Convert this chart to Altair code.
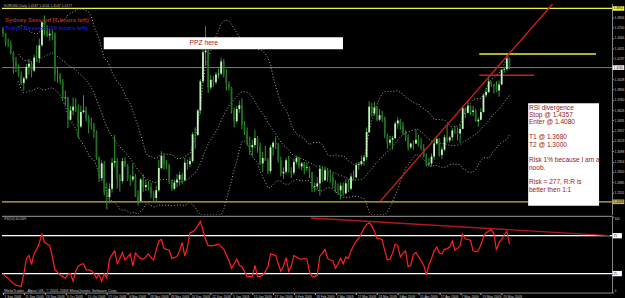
import json
import altair as alt
import pandas as pd

# ---------------- data ----------------
date_labels = ["1 Sep 2008", "11 Sep 2008", "23 Sep 2008", "3 Oct 2008", "15 Oct 2008",
               "27 Oct 2008", "6 Nov 2008", "18 Nov 2008", "28 Nov 2008", "10 Dec 2008",
               "22 Dec 2008", "5 Jan 2009", "15 Jan 2009", "27 Jan 2009", "6 Feb 2009",
               "18 Feb 2009", "2 Mar 2009", "12 Mar 2009", "24 Mar 2009", "3 Apr 2009",
               "15 Apr 2009", "27 Apr 2009", "7 May 2009", "19 May 2009", "29 May 2009"]
date_ticks = list(range(0, 193, 8))

# EURUSD daily, prices in 1/10000
opens = [14680,14620,14500,14490,14370,14260,14170,14090,13980,14040,
         14190,14230,14140,14310,14300,14470,14770,14660,14600,14620,
         14620,14090,14080,14000,13780,13790,13500,13620,13670,13620,
         13410,13600,13620,13520,13450,13420,13340,13000,12740,12930,
         12550,12490,12600,12940,12960,12730,12700,12960,12900,12730,
         12720,12760,12500,12440,12720,12620,12650,12620,12540,12480,
         12580,12870,13030,12920,12910,12690,12600,12680,12720,12780,
         12710,12940,12920,12960,13310,13300,13620,14000,14380,14400,
         13920,14020,13990,14090,14100,14260,14100,13970,13920,13620,
         13480,13640,13690,13430,13340,13200,13140,13170,13260,13160,
         12930,13000,12970,12830,13140,13200,13180,12970,12800,12820,
         12970,12830,12810,12950,13000,12890,12930,12870,12880,12810,
         12620,12630,12670,12860,12710,12840,12760,12750,12670,12580,
         12580,12640,12540,12670,12600,12760,12750,12910,12920,12960,
         13010,13340,13670,13580,13660,13500,13560,13530,13290,13200,
         13240,13260,13450,13490,13420,13330,13270,13140,13190,13190,
         13240,13170,13130,13030,12920,12930,13020,13190,13250,13040,
         13110,13270,13230,13270,13360,13350,13320,13380,13650,13590,
         13680,13600,13620,13480,13500,13600,13820,13860,14000,13960,
         13940,13880,13960,14150,14160,14300]
highs = [14710,14630,14560,14530,14390,14320,14220,14130,14060,14230,
         14290,14250,14350,14470,14560,14790,14860,14730,14690,14680,
         14640,14190,14110,14030,13880,13800,13680,13790,13780,13700,
         13680,13820,13670,13560,13530,13460,13360,13020,12970,12960,
         12680,12670,13000,13300,13000,12790,13000,13010,12920,12780,
         12930,12790,12580,12740,12790,12720,12700,12680,12570,12640,
         12980,13090,13050,12970,12930,12720,12720,12790,12820,12810,
         13000,12980,13010,13340,13400,13640,14030,14440,14720,14420,
         14080,14070,14120,14170,14310,14290,14160,14000,13930,13660,
         13680,13750,13780,13480,13400,13280,13240,13370,13290,13200,
         13080,13160,13000,13170,13220,13280,13200,13020,12880,13000,
         13030,12880,12990,13030,13020,12950,12950,12940,12890,12820,
         12680,12750,12910,12890,12890,12870,12850,12800,12710,12670,
         12680,12680,12720,12720,12800,12840,12940,12950,13030,13040,
         13400,13740,13720,13730,13680,13640,13620,13540,13320,13290,
         13290,13480,13530,13510,13470,13360,13310,13200,13230,13370,
         13300,13260,13180,13060,13000,13060,13240,13290,13260,13150,
         13300,13430,13290,13390,13420,13400,13440,13680,13660,13740,
         13690,13680,13640,13530,13650,13840,13920,14050,14000,13970,
         14000,14010,14160,14190,14340,14310]
lows = [14580,14460,14450,14350,14100,14120,14060,13950,13880,14020,
        14090,14050,14120,14250,14240,14450,14600,14580,14530,14540,
        14000,13980,13960,13760,13690,13390,13490,13560,13600,13260,
        13390,13580,13480,13320,13370,13260,12980,12690,12700,12510,
        12330,12410,12550,12880,12600,12560,12670,12880,12700,12640,
        12690,12490,12380,12420,12560,12570,12580,12480,12430,12440,
        12560,12850,12850,12860,12660,12570,12580,12620,12640,12660,
        12700,12850,12880,12940,13120,13290,13570,13990,14200,13850,
        13890,13930,13960,14040,14080,14050,13880,13880,13580,13400,
        13450,13590,13380,13300,13160,13040,13030,13130,13070,12910,
        12820,12960,12790,12800,13030,13120,12940,12760,12730,12790,
        12810,12740,12780,12920,12860,12840,12790,12830,12740,12560,
        12560,12590,12510,12690,12700,12690,12680,12610,12550,12520,
        12460,12510,12530,12560,12580,12710,12730,12850,12900,12900,
        12970,13330,13540,13550,13480,13480,13470,13260,13120,13160,
        13110,13250,13380,13370,13300,13220,13100,13120,13110,13180,
        13150,13100,13010,12890,12890,12890,12980,13170,13020,12990,
        13090,13200,13200,13230,13310,13230,13200,13380,13520,13580,
        13560,13550,13470,13410,13490,13590,13790,13850,13930,13840,
        13860,13800,13950,14110,14140,14160]
closes = [14620,14500,14490,14370,14260,14170,14090,13980,14040,14190,
          14230,14140,14310,14300,14470,14770,14660,14600,14620,14620,
          14090,14080,14000,13780,13790,13500,13620,13670,13620,13410,
          13600,13620,13520,13450,13420,13340,13000,12740,12930,12550,
          12490,12600,12940,12960,12730,12700,12960,12900,12730,12720,
          12760,12500,12440,12720,12620,12650,12620,12540,12480,12580,
          12870,13030,12920,12910,12690,12600,12680,12720,12780,12710,
          12940,12920,12960,13310,13300,13620,14000,14380,14400,13920,
          14020,13990,14090,14100,14260,14100,13970,13920,13620,13480,
          13640,13690,13430,13340,13200,13140,13170,13260,13160,12930,
          13000,12970,12830,13140,13200,13180,12970,12800,12820,12970,
          12830,12810,12950,13000,12890,12930,12870,12880,12810,12620,
          12630,12670,12860,12710,12840,12760,12750,12670,12580,12580,
          12640,12540,12670,12600,12760,12750,12910,12920,12960,13010,
          13340,13670,13580,13660,13500,13560,13530,13290,13200,13240,
          13260,13450,13490,13420,13330,13270,13140,13190,13190,13240,
          13170,13130,13030,12920,12930,13020,13190,13250,13040,13110,
          13270,13230,13270,13360,13350,13320,13380,13650,13590,13680,
          13600,13620,13480,13500,13600,13820,13860,14000,13960,13940,
          13880,13960,14150,14160,14300,14180]
rsi = [25,21,19,15,12,10,9,8,24,45,
       49,37,52,57,66,77,66,64,62,47,
       30,27,23,21,19,24,25,15,28,35,
       37,38,30,30,29,25,19,24,15,25,
       19,44,50,55,38,45,53,43,47,51,
       35,52,48,45,44,47,51,46,43,56,
       68,70,58,57,56,45,46,48,55,66,
       48,60,79,80,83,88,94,82,70,62,
       62,62,63,64,61,57,50,42,32,38,
       44,36,34,28,21,21,21,36,21,21,
       23,28,34,51,50,49,38,28,35,46,
       28,35,49,47,45,44,45,44,28,21,
       21,23,48,52,57,45,43,42,32,38,
       45,38,47,45,55,62,68,72,78,85,
       90,92,88,81,71,71,70,55,43,44,
       52,64,62,47,52,55,34,36,50,53,
       47,42,36,23,37,45,55,60,52,51,
       57,58,60,68,56,58,62,77,71,70,
       69,55,54,55,63,74,79,81,83,78,
       56,66,70,76,81,64]

price_ticks = [1.4834, 1.4700, 1.4566, 1.4431, 1.4297, 1.4028, 1.3894, 1.3760,
               1.3626, 1.3491, 1.3357, 1.3223, 1.3088, 1.2954, 1.2820, 1.2685, 1.2551]
full_lines = [1.4951, 1.2429]
full_line_colors = ["#f2f23c", "#c8b44c"]
current_price = [1.4180]
short_x1 = [183.4, 183.4]
short_x2 = [228.3, 204.5]
short_p = [1.4357, 1.4080]
short_colors = ["#f0f030", "#c02020"]
trend_x = [145.4, 211.6]
trend_p = [1.2442, 1.5009]
rsi_levels = [75, 25]
rsi_trend_x = [118.6, 233.7]
rsi_trend_v = [98.4, 75.1]
notes = ["RSI divergence", "Stop @ 1.4357", "Enter @ 1.4080", "T1 @ 1.3680", "T2 @ 1.3000",
         "Risk 1% because I am a", "noob.", "Risk = 277, R:R is", "better then 1:1"]
notes_p = [1.3651, 1.3556, 1.3465, 1.3274, 1.3174, 1.2979, 1.2871, 1.2685, 1.2589]

# ---------------- layout helpers ----------------
X_DOM = [-0.38, 234.5]
P_DOM = [1.2260, 1.5016]
R_DOM = [0, 101.3]
FONT = "Liberation Sans"
n = len(closes)
df = pd.DataFrame({
    "i": list(range(n)),
    "o": [v / 10000 for v in opens],
    "h": [v / 10000 for v in highs],
    "l": [v / 10000 for v in lows],
    "c": [v / 10000 for v in closes],
    "rsi": rsi,
    "dir": ["up" if c >= o else "down" for o, c in zip(opens, closes)],
})

xs = alt.Scale(domain=X_DOM, nice=False, zero=False, padding=0)
ps = alt.Scale(domain=P_DOM, nice=False, zero=False, clamp=True, padding=0)
rs = alt.Scale(domain=R_DOM, nice=False, zero=False, padding=0)

price_axis = alt.Axis(orient="right", values=price_ticks, format=".4f", labelFontSize=3.2,
                      tickSize=1.5, labelPadding=0.5, grid=False, title=None,
                      domainColor="#8a8a8a", tickColor="#8a8a8a", labelColor="#c8c8c8",
                      labelFont=FONT)


def X(f="i"):
    return alt.X(f"{f}:Q", scale=xs, axis=None)


def P(f):
    return alt.Y(f"{f}:Q", scale=ps, axis=price_axis)


base = alt.Chart(df)

flines = alt.Chart(pd.DataFrame({"p": full_lines, "col": full_line_colors})).mark_rule(
    strokeWidth=1.3).encode(y=P("p"), color=alt.Color("col:N", scale=None))
cur = alt.Chart(pd.DataFrame({"p": current_price})).mark_rule(
    color="#7c7c7c", strokeWidth=1).encode(y=P("p"))
shorts = alt.Chart(pd.DataFrame({"x1": short_x1, "x2": short_x2, "p": short_p,
                                 "col": short_colors})).mark_rule(strokeWidth=1.3).encode(
    x=X("x1"), x2="x2", y=P("p"), color=alt.Color("col:N", scale=None))

bands = base.transform_window(
    ma="mean(c)", sd="stdevp(c)", frame=[-19, 0], sort=[alt.SortField("i")]
).transform_calculate(
    up="datum.ma + 2*datum.sd", lo="datum.ma - 2*datum.sd"
).transform_filter("datum.i >= 6").transform_fold(
    ["ma", "up", "lo"], as_=["band", "v"]
).mark_line(clip=True, strokeDash=[1, 2], color="#a8a8a8", strokeWidth=1).encode(
    x=X(), y=P("v"), detail="band:N")

wicks = base.mark_rule(color="#2f9a2f", strokeWidth=1).encode(x=X(), y=P("l"), y2="h")
bodies = base.mark_bar(size=1.8).encode(
    x=X(), y=P("o"), y2="c",
    color=alt.Color("dir:N", scale=alt.Scale(domain=["up", "down"],
                                             range=["#c8f2c0", "#226e22"]), legend=None))

trend = alt.Chart(pd.DataFrame({"i": trend_x, "p": trend_p})).mark_line(
    color="#d02020", strokeWidth=1.3).encode(x=X(), y=P("p"))

ppz_box = alt.Chart(pd.DataFrame({"x1": [38.8], "x2": [130.9], "p1": [1.4574], "p2": [1.4418]})
                    ).mark_rect(color="white").encode(x=X("x1"), x2="x2", y=P("p1"), y2="p2")
ppz_txt = alt.Chart(pd.DataFrame({"x": [71.8], "p": [1.4496], "t": ["PPZ here"]})).mark_text(
    align="left", baseline="middle", fontSize=6.8, color="#a02828", font=FONT).encode(
    x=X("x"), y=P("p"), text="t:N")

note_box = alt.Chart(pd.DataFrame({"x1": [202.2], "x2": [229.5], "p1": [1.3716], "p2": [1.2377]})
                     ).mark_rect(color="white").encode(x=X("x1"), x2="x2", y=P("p1"), y2="p2")
note_txt = alt.Chart(pd.DataFrame({"x": [202.5] * len(notes), "p": notes_p, "t": notes})).mark_text(
    align="left", baseline="middle", fontSize=6.6, color="#9a2020", font=FONT
).encode(x=X("x"), y=P("p"), text="t:N")

sessions = alt.Chart(pd.DataFrame({"x": [0.8, 0.8], "p": [1.4795, 1.4698],
                                   "t": ["Sydney Session (7 hours left)",
                                         "Tokyo Session (10 hours left)"],
                                   "col": ["#b42828", "#1818c8"]})).mark_text(
    align="left", baseline="middle", fontSize=6, fontWeight="bold", font=FONT).encode(
    x=X("x"), y=P("p"), text="t:N", color=alt.Color("col:N", scale=None))

info = alt.Chart(pd.DataFrame({"x": [0.5], "p": [1.4980],
                               "t": ["EURUSD,Daily  1.4187 1.4204 1.4147 1.4177"]})).mark_text(
    align="left", baseline="middle", fontSize=3.4, color="#b8b8b8", font=FONT).encode(
    x=X("x"), y=P("p"), text="t:N")

lab_df = pd.DataFrame({"x1": [234.7] * 3, "x2": [239.2] * 3,
                       "p": full_lines[:1] + current_price + full_lines[1:],
                       "col": [full_line_colors[0], "#ffffff", full_line_colors[1]]})
lab_df["p1"] = lab_df["p"] + 0.0030
lab_df["p2"] = lab_df["p"] - 0.0030
lab_df["t"] = [f"{v:.4f}" for v in lab_df["p"]]
lab_box = alt.Chart(lab_df).mark_rect().encode(
    x=X("x1"), x2="x2", y=P("p1"), y2="p2", color=alt.Color("col:N", scale=None))
lab_txt = alt.Chart(lab_df).mark_text(align="left", baseline="middle", fontSize=3.2,
                                      color="black", font=FONT, dx=1).encode(
    x=X("x1"), y=P("p"), text="t:N")

main = alt.layer(flines, cur, shorts, bands, wicks, bodies, trend, ppz_box, ppz_txt,
                 note_box, note_txt, sessions, info, lab_box, lab_txt).properties(
    width=612, height=212)

# ---------------- RSI panel ----------------
rsi_x_axis = alt.Axis(values=date_ticks, labelExpr=f"{json.dumps(date_labels)}[floor(datum.value / 8)]",
                      labelAlign="left", labelFontSize=3.3, tickSize=2, labelPadding=0,
                      labelOffset=1, grid=False, title=None, domainColor="#8a8a8a",
                      tickColor="#b0b0b0", labelColor="#c8c8c8", labelOverlap=False,
                      labelFlush=False, labelFont=FONT)
rsi_axis = alt.Axis(orient="right", values=[0, 100], labelFontSize=3.2, tickSize=1.5,
                    labelPadding=0.5, grid=False, title=None, domainColor="#8a8a8a",
                    tickColor="#8a8a8a", labelColor="#c8c8c8", labelFont=FONT,
                    labelFlush=True)


def RX(f="i"):
    return alt.X(f"{f}:Q", scale=xs, axis=rsi_x_axis)


def RY(f):
    return alt.Y(f"{f}:Q", scale=rs, axis=rsi_axis)


sep = alt.Chart(pd.DataFrame({"v": [R_DOM[1] - 0.7]})).mark_rule(color="#9a9a9a", strokeWidth=1).encode(
    y=RY("v"))
lv = alt.Chart(pd.DataFrame({"v": rsi_levels})).mark_rule(color="white", strokeWidth=1.2).encode(
    y=RY("v"))
lv_df = pd.DataFrame({"x1": [234.7] * 2, "x2": [238.3] * 2, "v": rsi_levels})
lv_df["v1"] = lv_df["v"] + 3.5
lv_df["v2"] = lv_df["v"] - 3.5
lv_box = alt.Chart(lv_df).mark_rect(color="white").encode(x=RX("x1"), x2="x2", y=RY("v1"), y2="v2")
lv_txt = alt.Chart(lv_df).mark_text(align="left", baseline="middle", fontSize=3.2, color="black",
                                    font=FONT, dx=1).encode(x=RX("x1"), y=RY("v"), text="v:Q")
rsi_line = base.mark_line(color="#ff2020", strokeWidth=1.2).encode(x=RX(), y=RY("rsi"))
rsi_trend = alt.Chart(pd.DataFrame({"i": rsi_trend_x, "v": rsi_trend_v})).mark_line(
    color="#b01818", strokeWidth=1.4).encode(x=RX(), y=RY("v"))
rsi_info = alt.Chart(pd.DataFrame({"x": [0.5, 0.5], "v": [97.3, 2.6],
                                   "t": ["RSI(14) 64.0309",
                                         "MetaTrader - Alpari UK, \u00a9 2001-2008 MetaQuotes Software Corp."],
                                   "fs": [3.0, 3.9]})
                     ).mark_text(align="left", baseline="middle", color="#c0c0c0",
                                 font=FONT).encode(x=RX("x"), y=RY("v"), text="t:N",
                                                   size=alt.Size("fs:Q", scale=None, legend=None))

rsi_panel = alt.layer(sep, lv, rsi_trend, rsi_line, rsi_info, lv_box, lv_txt).properties(
    width=612, height=77)

chart = alt.vconcat(main, rsi_panel, spacing=1, bounds="flush").properties(
    background="black", padding=0
).configure_view(strokeWidth=0)

chart.save("out.html", embed_options={"renderer": "svg", "actions": False})
